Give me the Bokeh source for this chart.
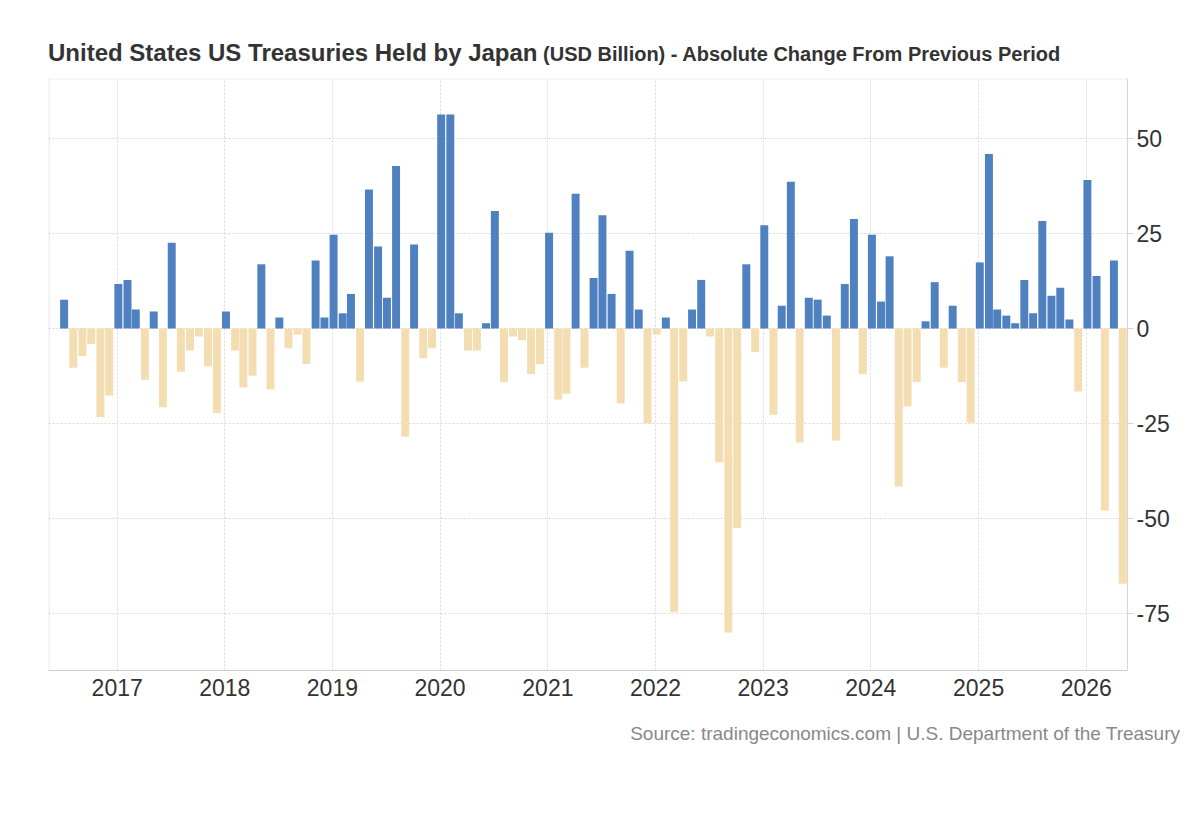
import pandas as pd
from datetime import datetime
from bokeh.plotting import figure
from bokeh.layouts import column
from bokeh.models import (ColumnDataSource, Range1d, FixedTicker, Div,
                          DatetimeTickFormatter, NumeralTickFormatter, Span)
from bokeh.embed import file_html
from bokeh.resources import INLINE

# ---------------- data ----------------
TITLE = "United States US Treasuries Held by Japan"
SUBTITLE = "(USD Billion) - Absolute Change From Previous Period"
SOURCE = "Source: tradingeconomics.com | U.S. Department of the Treasury"

first_month = "2016-07"
values_2016 = [7.6, -10.3, -7.2, -4.1, -23.3, -17.6]                      # Jul-Dec
values_2017 = [11.7, 12.8, 5.0, -13.5, 4.5, -20.7, 22.6, -11.4, -5.8, -2.1, -9.9, -22.2]
values_2018 = [4.5, -5.8, -15.5, -12.4, 16.9, -16.0, 2.9, -5.2, -1.6, -9.3, 17.9, 2.9]
values_2019 = [24.7, 4.0, 9.1, -14.0, 36.6, 21.6, 8.1, 42.8, -28.5, 22.1, -7.8, -5.2]
values_2020 = [56.3, 56.3, 4.0, -5.8, -5.8, 1.4, 30.9, -14.1, -2.1, -3.1, -12.0, -9.4]
values_2021 = [25.2, -18.7, -17.2, 35.5, -10.3, 13.3, 29.8, 9.1, -19.7, 20.5, 5.0, -25.0]
values_2022 = [-1.6, 2.9, -74.7, -13.9, 5.0, 12.8, -2.1, -35.2, -80.0, -52.5, 16.9, -6.2]
values_2023 = [27.2, -22.7, 6.0, 38.6, -30.0, 8.1, 7.6, 3.4, -29.5, 11.7, 28.8, -12.0]
values_2024 = [24.7, 7.1, 19.0, -41.6, -20.5, -14.1, 1.9, 12.2, -10.3, 6.0, -14.1, -24.8]
values_2025 = [17.4, 45.9, 5.0, 3.4, 1.4, 12.8, 4.0, 28.3, 8.6, 10.7, 2.4, -16.6]
values_2026 = [39.1, 13.8, -47.9, 17.9, -67.2]                              # Jan-May

values = (values_2016 + values_2017 + values_2018 + values_2019 + values_2020 +
          values_2021 + values_2022 + values_2023 + values_2024 + values_2025 +
          values_2026)
months = pd.date_range(first_month, periods=len(values), freq="MS")

tick_years = list(range(2017, 2027))
y_ticks = [-75, -50, -25, 0, 25, 50]

# ---------------- style ----------------
BLUE = "#4f80bf"
TAN = "#f4ddb1"
FONT = "Liberation Sans"
GRID = "#d8d8d8"

colors = [BLUE if v >= 0 else TAN for v in values]
src = ColumnDataSource(dict(x=months + pd.Timedelta(days=4), top=values, color=colors))

x_start = datetime(2016, 5, 13)
x_end = datetime(2026, 5, 21)
y_lo, y_hi = -90, 65.8

p = figure(frame_width=1079, frame_height=592,
           x_axis_type="datetime",
           x_range=Range1d(x_start, x_end), y_range=Range1d(y_lo, y_hi),
           y_axis_location="right",
           output_backend="svg", toolbar_location=None,
           min_border_left=48, min_border_right=65,
           min_border_top=8, min_border_bottom=40,
           background_fill_color="white", border_fill_color="white",
           margin=(0, 0, 0, 0))
p.outline_line_color = None

p.vbar(x="x", top="top", bottom=0, width=27 * 86400000,
       fill_color="color", line_color=None, source=src)

# x axis
year_ms = [pd.Timestamp(f"{y}-01-01").value // 10**6 for y in tick_years]
xt = FixedTicker(ticks=year_ms)
p.xaxis.ticker = xt
fmt = "%Y"
p.xaxis.formatter = DatetimeTickFormatter(
    microseconds=fmt, milliseconds=fmt, seconds=fmt, minsec=fmt, minutes=fmt,
    hourmin=fmt, hours=fmt, days=fmt, months=fmt, years=fmt)
p.xaxis.major_label_text_font = FONT
p.xaxis.major_label_text_font_size = "23px"
p.xaxis.major_label_text_color = "#333333"
p.xaxis.major_tick_line_color = None
p.xaxis.minor_tick_line_color = None
p.xaxis.major_tick_out = 0
p.xaxis.major_label_standoff = 8
p.xaxis.axis_line_color = "#cccccc"

# y axis (right)
p.yaxis.ticker = FixedTicker(ticks=y_ticks)
p.yaxis.formatter = NumeralTickFormatter(format="0")
p.yaxis.major_label_text_font = FONT
p.yaxis.major_label_text_font_size = "23px"
p.yaxis.major_label_text_color = "#333333"
p.yaxis.axis_line_color = "#d6d6d6"
p.yaxis.major_tick_line_color = "#d6d6d6"
p.yaxis.major_tick_out = 6
p.yaxis.major_tick_in = 0
p.yaxis.minor_tick_line_color = None
p.yaxis.major_label_standoff = 3

# grids
p.xgrid.ticker = xt
p.ygrid.ticker = FixedTicker(ticks=y_ticks)
for g in (p.xgrid, p.ygrid):
    g.grid_line_color = GRID
    g.grid_line_dash = "2 2"
    g.grid_line_width = 1

# frame edges
left_ms = pd.Timestamp(x_start).value // 10**6 + int(1.7 * 86400000)
p.add_layout(Span(location=left_ms, dimension="height", line_color="#dddddd", line_width=1))
p.add_layout(Span(location=y_hi - 0.13, dimension="width", line_color=GRID,
                  line_width=1, line_dash="2 2"))

# title and source as real text above / below the figure
title_html = (
    '<div style="padding:39px 0 0 48px; margin:0; white-space:nowrap; '
    "font-family:'Liberation Sans', Arial, sans-serif; font-weight:bold; "
    'color:#333333; line-height:normal;">'
    f'<span style="font-size:24px;">{TITLE}</span>'
    f'<span style="font-size:20px;">&nbsp;{SUBTITLE}</span></div>'
)
source_html = (
    '<div style="display:block; box-sizing:border-box; width:1180px; padding:13px 0 0 0; '
    'margin:0; white-space:nowrap; text-align:right; '
    "font-family:'Liberation Sans', Arial, sans-serif; font-size:19px; "
    f'color:#888888; line-height:normal;">{SOURCE}</div>'
)
title_div = Div(text=title_html, width=1192, height=70, margin=(0, 0, 0, 0))
source_div = Div(text=source_html, width=1192, height=50, margin=(0, 0, 0, 0))

layout = column(title_div, p, source_div, spacing=0, margin=(0, 0, 0, 0))

open("out.html", "w").write(file_html(layout, INLINE))
